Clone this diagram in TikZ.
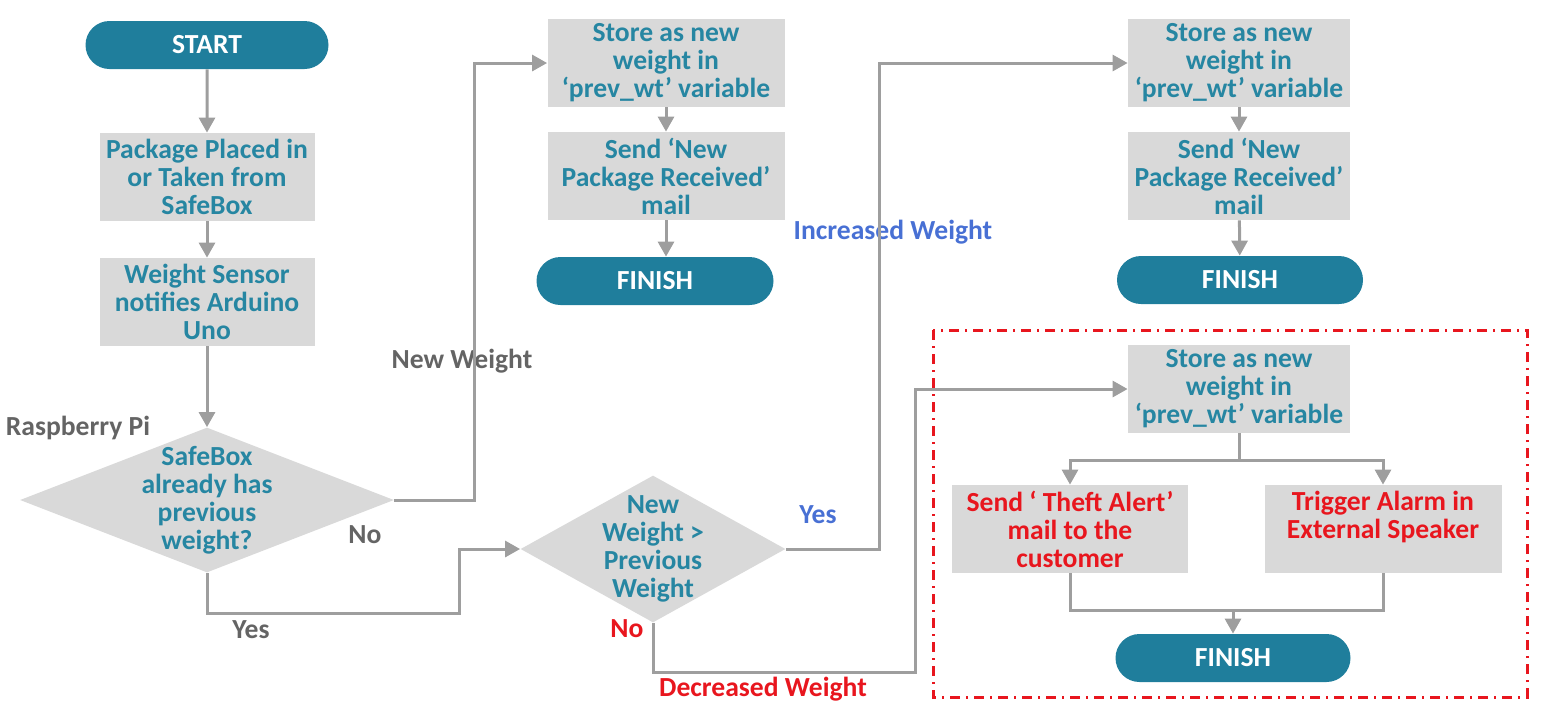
\documentclass[tikz,border=0pt]{standalone}
\usepackage{fontspec}
\setmainfont{Carlito}
\usepackage{tikz}
\usetikzlibrary{arrows.meta}
\usetikzlibrary{shapes.geometric}
\usetikzlibrary{shapes.misc}
\definecolor{tealtxt}{RGB}{38,134,162}
\definecolor{termteal}{RGB}{31,126,156}
\definecolor{boxgray}{RGB}{217,217,217}
\definecolor{linkgray}{RGB}{158,158,158}
\definecolor{labelgray}{RGB}{100,100,100}
\definecolor{alertred}{RGB}{232,22,30}
\definecolor{yesblue}{RGB}{72,112,212}
\begin{document}
\begin{tikzpicture}[x=0.5pt, y=-0.5pt,
    every node/.style={font=\bfseries\fontsize{13.8}{14}\selectfont},
    proc/.style={fill=boxgray, text=tealtxt, align=center, minimum width=107.5pt, minimum height=44pt, inner sep=0pt},
    term/.style={rounded rectangle, fill=termteal, text=white, minimum height=24pt, inner sep=0pt},
    decision/.style={diamond, fill=boxgray, inner sep=0pt},
    link/.style={draw=linkgray, line width=1.5pt},
    flow/.style={link, -{Triangle[width=8pt,length=7.5pt]}}]
    \useasboundingbox (0,0) rectangle (1560,725);

    \draw [alertred, line width=1.5pt, dash pattern=on 5pt off 3pt on 1pt off 3pt] (933,330) rectangle (1527,697);

    \node (start) [term, minimum width=121.5pt] at (207,45) {START};
    \node (pk) [proc] at (207,177) {Package Placed in\\or Taken from\\SafeBox};
    \node (ws) [proc] at (207,302) {Weight Sensor\\notifies Arduino\\Uno};
    \node (d1) [decision, minimum width=187pt, minimum height=72.5pt,
        label={[text=tealtxt, align=center]center:{SafeBox\\already has\\previous\\weight?}}] at (207,500) {};

    \node (s1) [proc, minimum width=118.5pt] at (666,63) {Store as new\\weight in\\‘prev\_wt’ variable};
    \node (m1) [proc, minimum width=118.5pt] at (666,176) {Send ‘New\\Package Received’\\mail};
    \node (f1) [term, minimum width=118.5pt] at (655,281) {FINISH};
    \node (d2) [decision, minimum width=132.5pt, minimum height=73.5pt,
        label={[text=tealtxt, align=center]center:{New\\Weight >\\Previous\\Weight}}] at (653,549) {};

    \node (s2) [proc, minimum width=111pt] at (1239,63) {Store as new\\weight in\\‘prev\_wt’ variable};
    \node (m2) [proc, minimum width=111pt] at (1239,176) {Send ‘New\\Package Received’\\mail};
    \node (f2) [term, minimum width=123pt] at (1240,280) {FINISH};

    \node (s3) [proc, minimum width=111pt] at (1239,389) {Store as new\\weight in\\‘prev\_wt’ variable};
    \node (a1) [proc, minimum width=118pt, text=alertred] at (1070,529) {Send ‘ Theft Alert’\\mail to the\\customer};
    \node (b1) [proc, minimum width=118.5pt, text=alertred] at (1383,529) {Trigger Alarm in\\External Speaker\\\mbox{}};
    \node (f3) [term, minimum width=117.5pt] at (1233,658) {FINISH};

    \node (rpi) [text=labelgray] at (78,428) {Raspberry Pi};
    \node (nw) [text=labelgray] at (462,361) {New Weight};
    \node (no1) [text=labelgray] at (365,535) {No};
    \node (yes1) [text=labelgray] at (251,630) {Yes};
    \node (no2) [text=alertred] at (627,629) {No};
    \node (yes2) [text=yesblue] at (818,515) {Yes};
    \node (inc) [text=yesblue] at (893,232) {Increased Weight};
    \node (dec) [text=alertred] at (763,689) {Decreased Weight};

    \draw [flow] (start) -- (pk);
    \draw [flow] (pk) -- (ws);
    \draw [flow] (ws) -- (d1.north);
    \draw [flow] (d1.east) -- ++(80,0) |- (s1.west);
    \draw [flow] (d1.south) -- ++(0,41) -- ++(252,0) |- (d2.west);
    \draw [flow] (s1) -- (m1);
    \draw [flow] (m1.south) -- (m1.south |- f1.north);
    \draw [flow] (d2.east) -- ++(94,0) |- (s2.west);
    \draw [flow] (s2) -- (m2);
    \draw [flow] (m2) -- (f2);
    \draw [flow] (d2.south) -- ++(0,50) -- ++(262,0) |- (s3.west);
    \draw [flow] (s3.south) -- ++(0,27) -| (a1.north);
    \draw [flow] (s3.south) -- ++(0,27) -| (b1.north);
    \draw [link] (a1.south) -- ++(0,37) -| (b1.south);
    \draw [flow] (f3.north |- a1.south) ++(0,37) -- (f3.north);
\end{tikzpicture}
\end{document}
